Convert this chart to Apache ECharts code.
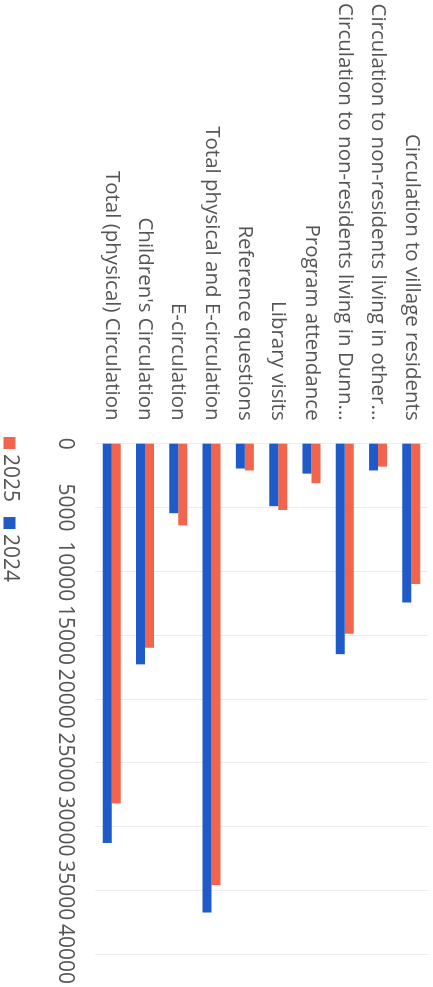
<!DOCTYPE html>
<html>
<head>
<meta charset="utf-8">
<script src="https://cdn.jsdelivr.net/npm/echarts@6/dist/echarts.min.js"></script>
<style>
html,body{margin:0;padding:0;overflow:hidden;background:#fff;width:433px;height:987px;}
#chart{position:absolute;left:0;top:0;width:987px;height:433px;transform-origin:0 0;transform:translate(433px,0) rotate(90deg);}
</style>
</head>
<body>
<div id="chart"></div>
<script>
const categories = [
  "Circulation to village residents",
  "Circulation to non-residents living in other...",
  "Circulation to non-residents living in Dunn...",
  "Program attendance",
  "Library visits",
  "Reference questions",
  "Total physical and E-circulation",
  "E-circulation",
  "Children's Circulation",
  "Total (physical) Circulation"
];
const values2025 = [11000, 1800, 14900, 3100, 5200, 2100, 34600, 6400, 16000, 28200];
const values2024 = [12450, 2100, 16500, 2350, 4900, 1950, 36750, 5450, 17300, 31300];
const seriesNames = ["2025", "2024"];
const valueTicks = {min: 0, max: 40000, interval: 5000};

const FONT = "'Open Sans', sans-serif";
const chart = echarts.init(document.getElementById('chart'), null, {renderer: 'canvas'});
chart.setOption({
  animation: false,
  backgroundColor: '#ffffff',
  color: ['#f2654c', '#1f5bc8'],
  textStyle: {fontFamily: FONT},
  legend: {
    data: seriesNames,
    left: 437,
    top: 413,
    padding: 0,
    icon: 'rect',
    itemWidth: 12,
    itemHeight: 12,
    itemGap: 15,
    textStyle: {fontSize: 21, color: '#555', fontFamily: FONT}
  },
  grid: {left: 442, right: 32, top: 5, bottom: 95, containLabel: false},
  xAxis: {
    type: 'value',
    min: valueTicks.min,
    max: valueTicks.max,
    interval: valueTicks.interval,
    axisLine: {show: false},
    axisTick: {show: false},
    axisLabel: {fontSize: 21, color: '#555', margin: 20, fontFamily: FONT, formatter: v => String(v)},
    splitLine: {show: true, lineStyle: {color: '#ececec', width: 1}}
  },
  yAxis: {
    type: 'category',
    inverse: true,
    data: categories,
    axisLine: {show: false},
    axisTick: {show: false},
    axisLabel: {fontSize: 20.5, color: '#555', margin: 23, fontFamily: FONT}
  },
  series: [
    {name: seriesNames[0], type: 'bar', data: values2025, barWidth: 9, barGap: '0%'},
    {name: seriesNames[1], type: 'bar', data: values2024, barWidth: 9, barGap: '0%'}
  ]
});
</script>
</body>
</html>
